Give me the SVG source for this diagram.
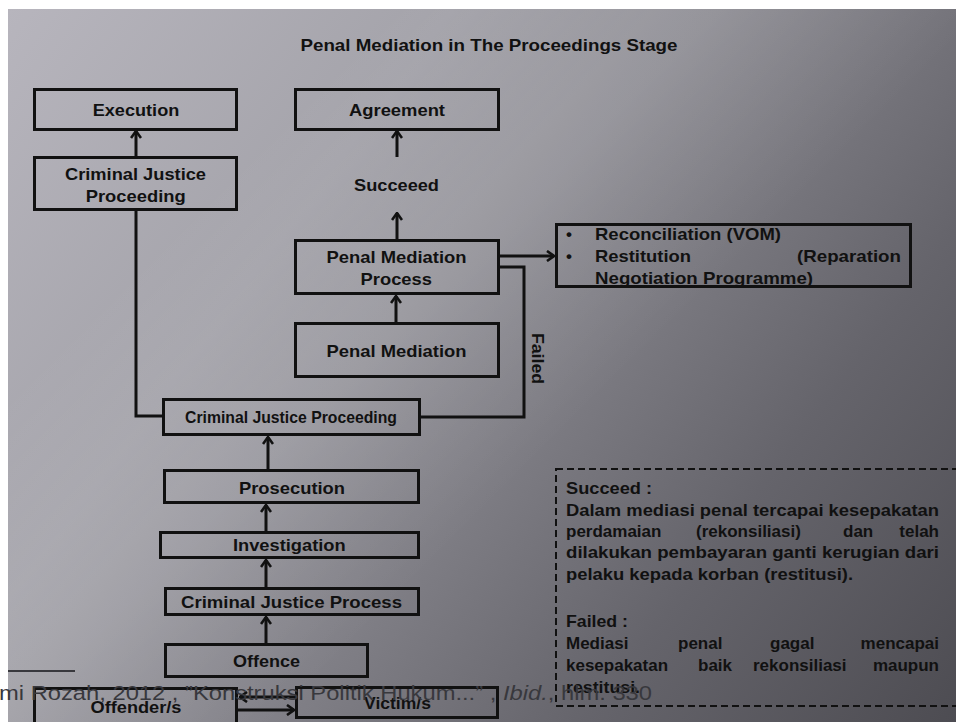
<svg xmlns="http://www.w3.org/2000/svg" width="956" height="722" viewBox="0 0 956 722">
<defs>
<linearGradient id="bg" gradientUnits="userSpaceOnUse" x1="8" y1="9" x2="956" y2="722">
<stop offset="0" stop-color="#b7b5bd"/>
<stop offset="0.3" stop-color="#a4a3aa"/>
<stop offset="0.5" stop-color="#86858c"/>
<stop offset="0.75" stop-color="#65646b"/>
<stop offset="1" stop-color="#4d4c52"/>
</linearGradient>
<linearGradient id="band" gradientUnits="userSpaceOnUse" x1="200" y1="200" x2="500" y2="500">
<stop offset="0" stop-color="#ffffff" stop-opacity="0"/>
<stop offset="0.45" stop-color="#ffffff" stop-opacity="0.10"/>
<stop offset="0.55" stop-color="#ffffff" stop-opacity="0.10"/>
<stop offset="1" stop-color="#ffffff" stop-opacity="0"/>
</linearGradient>
<marker id="ah" viewBox="0 0 12 12" refX="11" refY="6" markerWidth="12" markerHeight="12" markerUnits="userSpaceOnUse" orient="auto">
<path d="M4,1 L11,6 L4,11" fill="none" stroke="#111" stroke-width="2.6"/>
</marker>
<style>
.box{fill:none;stroke:#111;stroke-width:3}
.dash{fill:none;stroke:#111;stroke-width:2;stroke-dasharray:7,4}
.t{font-family:"Liberation Sans",Arial,sans-serif;font-weight:bold;fill:#111;font-size:17px}
.c{text-anchor:middle}
.e{text-anchor:end}
.ln{fill:none;stroke:#111;stroke-width:3}
.ar{fill:none;stroke:#111;stroke-width:3;marker-end:url(#ah)}
.fn{font-family:"Liberation Sans",Arial,sans-serif;font-size:20px;fill:#38383d}
</style>
</defs>
<rect x="0" y="0" width="956" height="722" fill="#ffffff"/>
<rect x="8" y="9" width="948" height="713" fill="url(#bg)"/>
<rect x="8" y="9" width="948" height="713" fill="url(#band)"/>

<text class="t c" x="489" y="51" font-size="14.5" textLength="377" lengthAdjust="spacingAndGlyphs">Penal Mediation in The Proceedings Stage</text>

<g id="connectors">
<line class="ar" x1="136" y1="156" x2="136" y2="131"/>
<line class="ar" x1="397" y1="157" x2="397" y2="131"/>
<line class="ar" x1="397" y1="239" x2="397" y2="213"/>
<line class="ar" x1="396" y1="322" x2="396" y2="296"/>
<line class="ar" x1="500" y1="256" x2="554" y2="256"/>
<polyline class="ln" points="500,267 524,267 524,417 421,417"/>
<polyline class="ln" points="136,211 136,416 162,416"/>
<line class="ar" x1="268" y1="469" x2="268" y2="437"/>
<line class="ar" x1="266" y1="531" x2="266" y2="505"/>
<line class="ar" x1="266" y1="587" x2="266" y2="560"/>
<line class="ar" x1="266" y1="643" x2="266" y2="617"/>
<line class="ar" x1="238" y1="710" x2="294" y2="710"/>
<line class="ar" x1="295" y1="697" x2="240" y2="697"/>
<text class="t" transform="translate(532,333) rotate(90)" textLength="51" lengthAdjust="spacingAndGlyphs">Failed</text>
<text class="t c" x="396.5" y="191" textLength="85" lengthAdjust="spacingAndGlyphs">Succeeed</text>
</g>

<g id="execution">
<rect class="box" x="34.5" y="89.5" width="202" height="40"/>
<text class="t c" x="136" y="116" textLength="86.6" lengthAdjust="spacingAndGlyphs">Execution</text>
</g>
<g id="cjp-top">
<rect class="box" x="34.5" y="157.5" width="202" height="52"/>
<text class="t c" x="135.5" y="180" textLength="141" lengthAdjust="spacingAndGlyphs">Criminal Justice</text>
<text class="t c" x="135.7" y="201.5" textLength="100" lengthAdjust="spacingAndGlyphs">Proceeding</text>
</g>
<g id="agreement">
<rect class="box" x="295.5" y="89.5" width="203" height="40"/>
<text class="t c" x="397" y="116" textLength="96" lengthAdjust="spacingAndGlyphs">Agreement</text>
</g>
<g id="pm-process">
<rect class="box" x="295.5" y="240.5" width="203" height="53"/>
<text class="t c" x="396.5" y="263" textLength="140" lengthAdjust="spacingAndGlyphs">Penal Mediation</text>
<text class="t c" x="396.3" y="285" textLength="71.4" lengthAdjust="spacingAndGlyphs">Process</text>
</g>
<g id="pm">
<rect class="box" x="295.5" y="323.5" width="203" height="53"/>
<text class="t c" x="396.5" y="357" textLength="140" lengthAdjust="spacingAndGlyphs">Penal Mediation</text>
</g>
<g id="outcomes">
<rect class="box" x="556.5" y="224.5" width="354" height="62"/>
<text class="t" x="566" y="240" font-weight="normal">•</text>
<text class="t" x="595" y="240" textLength="186" lengthAdjust="spacingAndGlyphs">Reconciliation (VOM)</text>
<text class="t" x="566" y="262" font-weight="normal">•</text>
<text class="t" x="595" y="262" textLength="96" lengthAdjust="spacingAndGlyphs">Restitution</text>
<text class="t e" x="901" y="262" textLength="104" lengthAdjust="spacingAndGlyphs">(Reparation</text>
<text class="t" x="595" y="284" textLength="218" lengthAdjust="spacingAndGlyphs">Negotiation Programme)</text>
</g>
<g id="cjp-mid">
<rect class="box" x="163.5" y="399.5" width="256" height="35"/>
<text class="t c" x="291" y="423" font-size="16" textLength="212" lengthAdjust="spacingAndGlyphs">Criminal Justice Proceeding</text>
</g>
<g id="prosecution">
<rect class="box" x="164.5" y="470.5" width="254" height="32"/>
<text class="t c" x="292" y="494" textLength="106" lengthAdjust="spacingAndGlyphs">Prosecution</text>
</g>
<g id="investigation">
<rect class="box" x="160.5" y="532.5" width="258" height="25"/>
<text class="t c" x="289.3" y="551" textLength="112.7" lengthAdjust="spacingAndGlyphs">Investigation</text>
</g>
<g id="cj-process">
<rect class="box" x="165.5" y="588.5" width="253" height="26"/>
<text class="t c" x="291.5" y="608" textLength="221" lengthAdjust="spacingAndGlyphs">Criminal Justice Process</text>
</g>
<g id="offence">
<rect class="box" x="165.5" y="644.5" width="202" height="32"/>
<text class="t c" x="266.5" y="667" font-size="16.5" textLength="67" lengthAdjust="spacingAndGlyphs">Offence</text>
</g>
<g id="offender">
<rect class="box" x="34.5" y="688.5" width="202" height="40"/>
<text class="t c" x="136" y="713" textLength="91" lengthAdjust="spacingAndGlyphs">Offender/s</text>
</g>
<g id="victim">
<rect class="box" x="296.5" y="687.5" width="201" height="30"/>
<text class="t c" x="397.5" y="709" textLength="67" lengthAdjust="spacingAndGlyphs">Victim/s</text>
</g>

<g id="notes">
<rect class="dash" x="556" y="469" width="402" height="237"/>
<text class="t" x="566" y="494" textLength="86" lengthAdjust="spacingAndGlyphs">Succeed :</text>
<text class="t" x="566" y="516" textLength="373" lengthAdjust="spacingAndGlyphs">Dalam mediasi penal  tercapai kesepakatan</text>
<text class="t" x="566" y="537">perdamaian</text>
<text class="t" x="696" y="537">(rekonsiliasi)</text>
<text class="t" x="843" y="537">dan</text>
<text class="t e" x="939" y="537">telah</text>
<text class="t" x="566" y="558" textLength="373" lengthAdjust="spacingAndGlyphs">dilakukan pembayaran ganti kerugian dari</text>
<text class="t" x="566" y="580" textLength="287" lengthAdjust="spacingAndGlyphs">pelaku kepada korban (restitusi).</text>
<text class="t" x="566" y="627" textLength="62" lengthAdjust="spacingAndGlyphs">Failed :</text>
<text class="t" x="566" y="649">Mediasi</text>
<text class="t" x="678" y="649">penal</text>
<text class="t" x="770" y="649">gagal</text>
<text class="t e" x="939" y="649">mencapai</text>
<text class="t" x="566" y="671">kesepakatan</text>
<text class="t" x="698" y="671">baik</text>
<text class="t" x="753" y="671">rekonsiliasi</text>
<text class="t e" x="939" y="671">maupun</text>
<text class="t" x="566" y="693" textLength="74" lengthAdjust="spacingAndGlyphs">restitusi.</text>
</g>

<g id="footnote">
<line x1="8" y1="671" x2="75" y2="671" stroke="#38383d" stroke-width="2"/>
<text class="fn" x="-1" y="700" font-size="21" textLength="653" lengthAdjust="spacingAndGlyphs">mi Rozah, 2012 , ”Konstruksi Politik Hukum...” , <tspan font-style="italic">Ibid.</tspan>, hlm. 330</text>
</g>
</svg>
